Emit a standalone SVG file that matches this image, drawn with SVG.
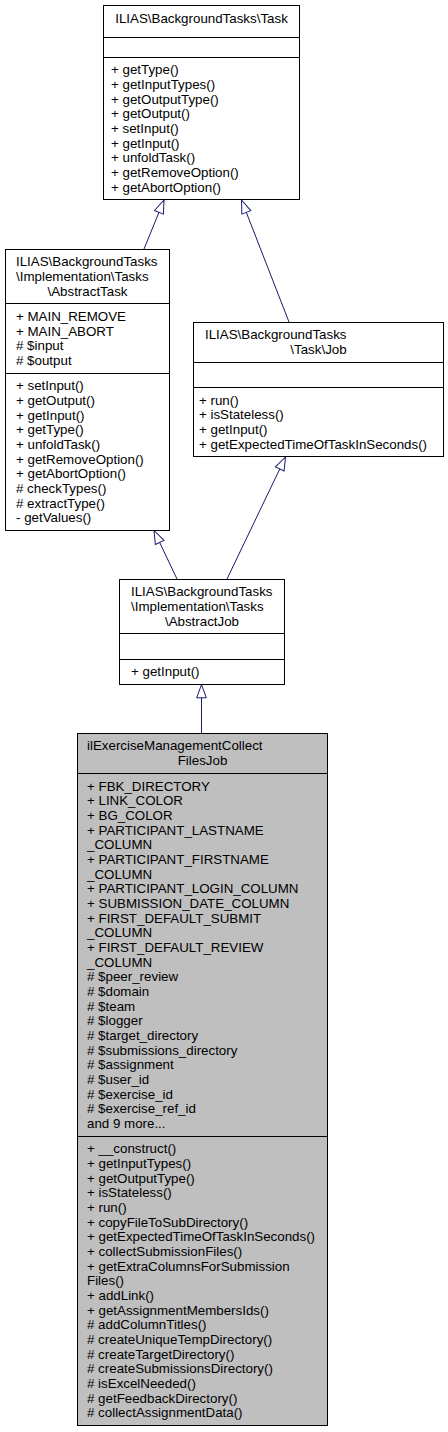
<svg xmlns="http://www.w3.org/2000/svg" width="448" height="1432" viewBox="0 0 448 1432">
<style>
.box { fill: #ffffff; stroke: #000000; stroke-width: 1; }
.gray { fill: #bfbfbf; }
.sep { stroke: #000000; stroke-width: 1; fill: none; }
text { font-family: "Liberation Sans", Arial, Helvetica, sans-serif; font-size: 13.33px; fill: #000000; }
.c { text-anchor: middle; }
.edge { stroke: #191970; stroke-width: 1; fill: none; marker-end: url(#tri); }
</style>
<defs>
<marker id="tri" markerWidth="18" markerHeight="14" viewBox="-16 -7 18 14" refX="0" refY="0" orient="auto" markerUnits="userSpaceOnUse">
<path d="M0,0 L-13.3,-4.8 L-13.3,4.8 Z" fill="#ffffff" stroke="#191970" stroke-width="1"/>
</marker>
</defs>
<rect width="448" height="1432" fill="#ffffff"/>

<g id="connectors">
<path class="edge" d="M144,249 L164,200"/>
<path class="edge" d="M289,322 L241.5,200"/>
<path class="edge" d="M177,579 L154,530.5"/>
<path class="edge" d="M227,579 L285.5,457"/>
<path class="edge" d="M201.5,733 L201.5,684.5"/>
</g>

<g id="node-task">
<rect class="box" x="103.5" y="5.5" width="196" height="194"/>
<path class="sep" d="M103.5,37.5 H299.5 M103.5,57.5 H299.5"/>
<text class="c" x="201.5" y="22.5">ILIAS\BackgroundTasks\Task</text>
<text x="111">
<tspan x="111" y="74.3">+ getType()</tspan>
<tspan x="111" y="89">+ getInputTypes()</tspan>
<tspan x="111" y="103.6">+ getOutputType()</tspan>
<tspan x="111" y="118.3">+ getOutput()</tspan>
<tspan x="111" y="133">+ setInput()</tspan>
<tspan x="111" y="147.6">+ getInput()</tspan>
<tspan x="111" y="162.3">+ unfoldTask()</tspan>
<tspan x="111" y="177">+ getRemoveOption()</tspan>
<tspan x="111" y="191.6">+ getAbortOption()</tspan>
</text>
</g>

<g id="node-abstracttask">
<rect class="box" x="5.5" y="249.5" width="164" height="281"/>
<path class="sep" d="M5.5,303.5 H169.5 M5.5,373.5 H169.5"/>
<text>
<tspan x="16" y="266.3">ILIAS\BackgroundTasks</tspan>
<tspan x="16" y="281">\Implementation\Tasks</tspan>
</text>
<text class="c" x="87.5" y="295.6">\AbstractTask</text>
<text>
<tspan x="16" y="321">+ MAIN_REMOVE</tspan>
<tspan x="16" y="335.7">+ MAIN_ABORT</tspan>
<tspan x="16" y="350.3"># $input</tspan>
<tspan x="16" y="365"># $output</tspan>
</text>
<text>
<tspan x="16" y="390.3">+ setInput()</tspan>
<tspan x="16" y="405">+ getOutput()</tspan>
<tspan x="16" y="419.7">+ getInput()</tspan>
<tspan x="16" y="434.3">+ getType()</tspan>
<tspan x="16" y="449">+ unfoldTask()</tspan>
<tspan x="16" y="463.7">+ getRemoveOption()</tspan>
<tspan x="16" y="478.3">+ getAbortOption()</tspan>
<tspan x="16" y="493"># checkTypes()</tspan>
<tspan x="16" y="507.7"># extractType()</tspan>
<tspan x="16" y="522.3">- getValues()</tspan>
</text>
</g>

<g id="node-job">
<rect class="box" x="193.5" y="322.5" width="250" height="134"/>
<path class="sep" d="M193.5,362.5 H443.5 M193.5,387.5 H443.5"/>
<text x="205" y="339.3">ILIAS\BackgroundTasks</text>
<text class="c" x="318.5" y="354">\Task\Job</text>
<text>
<tspan x="199" y="404.6">+ run()</tspan>
<tspan x="199" y="419.3">+ isStateless()</tspan>
<tspan x="199" y="434">+ getInput()</tspan>
<tspan x="199" y="448.6">+ getExpectedTimeOfTaskInSeconds()</tspan>
</text>
</g>

<g id="node-abstractjob">
<rect class="box" x="119.5" y="579.5" width="165" height="105"/>
<path class="sep" d="M119.5,633.5 H284.5 M119.5,659.5 H284.5"/>
<text>
<tspan x="131" y="596.3">ILIAS\BackgroundTasks</tspan>
<tspan x="131" y="611">\Implementation\Tasks</tspan>
</text>
<text class="c" x="202" y="625.6">\AbstractJob</text>
<text x="131" y="676.3">+ getInput()</text>
</g>

<g id="node-collectfilesjob">
<rect class="box gray" x="77.5" y="733.5" width="250" height="692"/>
<path class="sep" d="M77.5,773.5 H327.5 M77.5,1136.5 H327.5"/>
<text x="87" y="750.3">ilExerciseManagementCollect</text>
<text class="c" x="202.5" y="765">FilesJob</text>
<text>
<tspan x="87" y="790.6">+ FBK_DIRECTORY</tspan>
<tspan x="87" y="805.3">+ LINK_COLOR</tspan>
<tspan x="87" y="819.9">+ BG_COLOR</tspan>
<tspan x="87" y="834.6">+ PARTICIPANT_LASTNAME</tspan>
<tspan x="87" y="849.3">_COLUMN</tspan>
<tspan x="87" y="863.9">+ PARTICIPANT_FIRSTNAME</tspan>
<tspan x="87" y="878.6">_COLUMN</tspan>
<tspan x="87" y="893.3">+ PARTICIPANT_LOGIN_COLUMN</tspan>
<tspan x="87" y="907.9">+ SUBMISSION_DATE_COLUMN</tspan>
<tspan x="87" y="922.6">+ FIRST_DEFAULT_SUBMIT</tspan>
<tspan x="87" y="937.3">_COLUMN</tspan>
<tspan x="87" y="951.9">+ FIRST_DEFAULT_REVIEW</tspan>
<tspan x="87" y="966.6">_COLUMN</tspan>
<tspan x="87" y="981.3"># $peer_review</tspan>
<tspan x="87" y="995.9"># $domain</tspan>
<tspan x="87" y="1010.6"># $team</tspan>
<tspan x="87" y="1025.3"># $logger</tspan>
<tspan x="87" y="1039.9"># $target_directory</tspan>
<tspan x="87" y="1054.6"># $submissions_directory</tspan>
<tspan x="87" y="1069.3"># $assignment</tspan>
<tspan x="87" y="1083.9"># $user_id</tspan>
<tspan x="87" y="1098.6"># $exercise_id</tspan>
<tspan x="87" y="1113.3"># $exercise_ref_id</tspan>
<tspan x="87" y="1127.9">and 9 more...</tspan>
</text>
<text>
<tspan x="87" y="1153.3">+ __construct()</tspan>
<tspan x="87" y="1168">+ getInputTypes()</tspan>
<tspan x="87" y="1182.6">+ getOutputType()</tspan>
<tspan x="87" y="1197.3">+ isStateless()</tspan>
<tspan x="87" y="1212">+ run()</tspan>
<tspan x="87" y="1226.6">+ copyFileToSubDirectory()</tspan>
<tspan x="87" y="1241.3">+ getExpectedTimeOfTaskInSeconds()</tspan>
<tspan x="87" y="1256">+ collectSubmissionFiles()</tspan>
<tspan x="87" y="1270.6">+ getExtraColumnsForSubmission</tspan>
<tspan x="87" y="1285.3">Files()</tspan>
<tspan x="87" y="1300">+ addLink()</tspan>
<tspan x="87" y="1314.6">+ getAssignmentMembersIds()</tspan>
<tspan x="87" y="1329.3"># addColumnTitles()</tspan>
<tspan x="87" y="1344"># createUniqueTempDirectory()</tspan>
<tspan x="87" y="1358.6"># createTargetDirectory()</tspan>
<tspan x="87" y="1373.3"># createSubmissionsDirectory()</tspan>
<tspan x="87" y="1388"># isExcelNeeded()</tspan>
<tspan x="87" y="1402.6"># getFeedbackDirectory()</tspan>
<tspan x="87" y="1417.3"># collectAssignmentData()</tspan>
</text>
</g>
</svg>
